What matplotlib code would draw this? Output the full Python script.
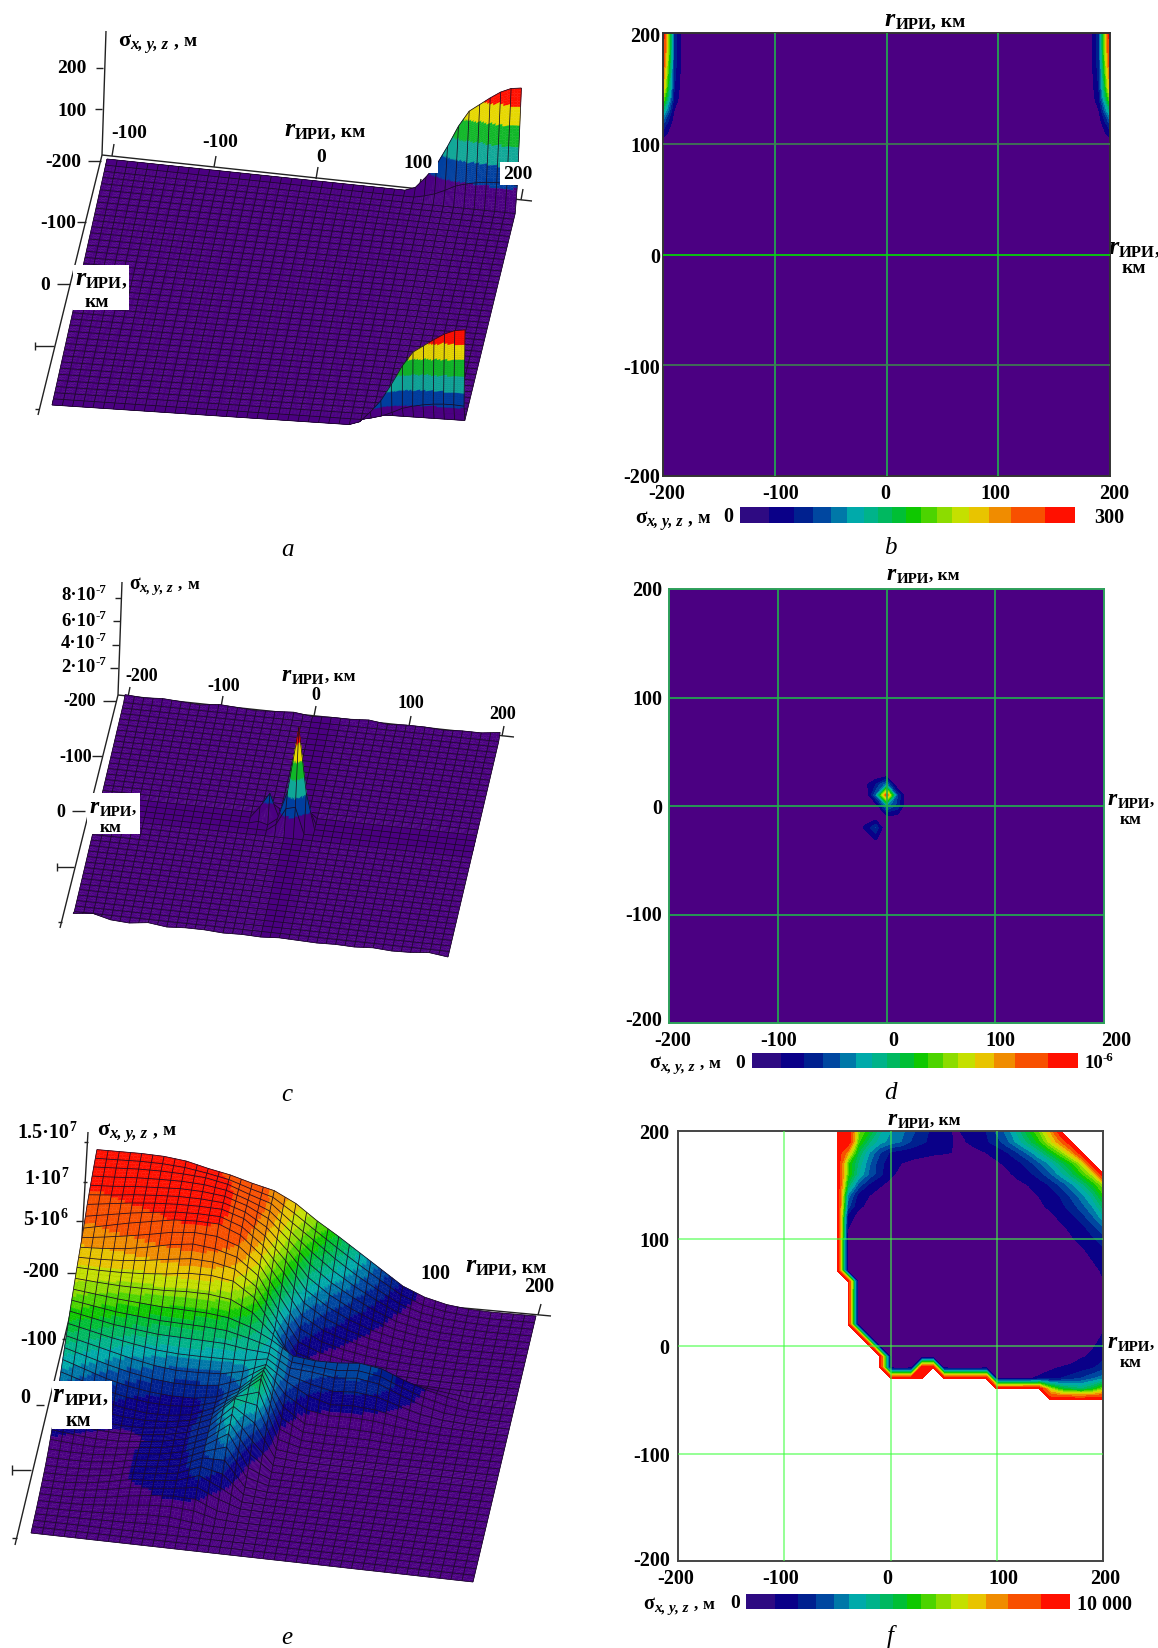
import numpy as np
import matplotlib
matplotlib.use('Agg')
import matplotlib.pyplot as plt
from matplotlib.collections import PolyCollection, LineCollection
from matplotlib.colors import ListedColormap, BoundaryNorm
from matplotlib.patches import Rectangle
from matplotlib.transforms import ScaledTranslation

plt.rcParams['font.family'] = ['Liberation Serif', 'DejaVu Serif']
plt.rcParams['axes.unicode_minus'] = False

n = np.nan

# band edges of the legend, as share of the full scale
band_edges = [0, .088, .16, .217, .271, .319, .369, .413, .455, .497, .540,
              .587, .632, .685, .742, .808, .909, 1.0]
band_colors = ['#4b0082', '#0a0088', '#00208f', '#0047a0', '#0078a8', '#00aaaa',
               '#00b38a', '#00b860', '#00bf35', '#0fc800', '#4cd400', '#8cdc00',
               '#c4e000', '#e8c400', '#f08c00', '#f85000', '#ff1000']
legend_first = '#2e0a82'
# the surfaces of a and c have six equal bands only
six_edges = [0, 1 / 6, 2 / 6, 3 / 6, 4 / 6, 5 / 6, 1.0]
six_colors = ['#4b0082', '#0040a0', '#10a898', '#10b828', '#e6d800', '#ff1000']
tick_values = [-200, -100, 0, 100, 200]

# a, b: sigma in metres near the x = +-200 edges, upper part of the area
ab_x = [-200, -190, -180, 180, 190, 200]
ab_y = [-200, 90, 100, 110, 120, 130, 140, 150, 160, 170, 180, 190, 200]
ab_edge = [0, 0, 10, 40, 75, 125, 180, 222, 242, 262, 280, 292, 296]
ab_next = [0, 0, 0, 6, 14, 26, 40, 48, 54, 58, 60, 60, 58]
ab_zero = [0] * 13
ab_sigma = np.column_stack([ab_edge, ab_next, ab_zero, ab_zero, ab_next, ab_edge])

# c, d: two narrow peaks, units of 1e-7 m
cd_x = [-200, -30, -20, -10, 0, 10, 20, 200]
cd_y = [-200, -40, -30, -20, -10, 0, 10, 20, 30, 200]
cd_sigma = np.array([
    [0, 0, 0, 0, 0, 0, 0, 0],
    [0, 0, 0, 0, 0, 0, 0, 0],
    [0, 0, 0, 1.0, .2, 0, 0, 0],
    [0, 0, 1.0, 2.2, 0, 0, 0, 0],
    [0, 0, .5, .3, .6, .6, 0, 0],
    [0, 0, 0, .2, 3.0, 2.0, 0, 0],
    [0, 0, 0, 2.6, 8.5, 2.2, 0, 0],
    [0, 0, .6, 1.6, 3.0, 0, 0, 0],
    [0, 0, 0, 0, 0, 0, 0, 0],
    [0, 0, 0, 0, 0, 0, 0, 0]])
# small waves of the back and front edges of surface c, y = -200..200 step 20
c_back = [.2, .1, .2, .1, 0, .2, .1, 0, .1, .2, 0, .1, .1, .2, 0, .1, .1, 0, .1, .1, .3]
c_front = [.3, .5, .1, 0, .2, 0, .1, .1, 0, .05, 0, .1, .05, 0, .05, 0, .1, 0, .05, .2, 0]

# e: units of 1e6 m, rows x = -200..200, columns y = -200..200, step 20 km
e_step = list(range(-200, 201, 20))
e_sigma = np.array([
    [14, 14, 14, 13.9, 13.6, 13, 12.5, 11.8, 11.2, 10, 8.3, 6.8, 5.2, 3.6, 2, 1, .4, .1, 0, 0, 0],
    [13.5, 13.6, 13.7, 13.7, 13.6, 13.4, 12.9, 12, 11.2, 9.3, 7.6, 5.8, 4.2, 2.8, 1.5, .7, .3, .1, 0, 0, 0],
    [12.9, 13, 13.2, 13.3, 13.4, 13.3, 13, 12.2, 11, 8.8, 6.4, 4.6, 3.2, 2, 1, .5, .2, .1, 0, 0, 0],
    [12.2, 12.5, 12.8, 13, 13.1, 13.1, 13, 12.2, 10.5, 8, 5, 3.4, 2.2, 1.3, .7, .3, .1, 0, 0, 0, 0],
    [11, 11.5, 12, 12.4, 12.8, 12.9, 12.8, 11.8, 9.8, 6.8, 3.6, 2.2, 1.4, .8, .4, .2, .1, 0, 0, 0, 0],
    [10.3, 10.4, 10.6, 11, 11.5, 11.8, 11.5, 10.8, 9, 5.5, 2.2, 1.2, .7, .4, .2, .1, 0, 0, 0, 0, 0],
    [9.5, 9.4, 9.4, 9.5, 9.7, 10, 10, 9.6, 8, 4.8, 1.2, .7, .4, .3, .3, .2, .1, 0, 0, 0, 0],
    [8.5, 8.2, 7.9, 7.7, 7.5, 7.4, 7.3, 7, 6.2, 5, 3.5, 3.2, 3.2, 3.4, 3, 2, 1.2, .6, .1, 0, 0],
    [7.5, 7, 6.5, 6.2, 5.9, 5.8, 5.7, 5.6, 5.2, 5, 3.6, 3.4, 3, 3.2, 2.8, 1.8, .9, .3, .1, 0, 0],
    [6.2, 5.6, 5, 4.4, 3.9, 3.6, 3.6, 3.7, 4.2, 5.2, 3.5, 2.2, 1.5, 1.6, 1.4, .9, .4, .2, .1, 0, 0],
    [5, 4.2, 3.4, 2.8, 2.4, 2.2, 2.2, 2.6, 3.8, 6, 2.2, .6, .5, .5, .4, .2, .1, 0, 0, 0, 0],
    [3.7, 3, 2.3, 1.8, 1.5, 1.5, 1.8, 2.8, 4.5, 6.5, 1.2, .2, .1, .1, .1, 0, 0, 0, 0, 0, 0],
    [2.5, 1.9, 1.5, 1.3, 1.3, 1.5, 2, 3, 5.5, 5, .4, .1, 0, 0, 0, 0, 0, 0, 0, 0, 0],
    [1.5, 1.2, 1, 1, 1.2, 1.5, 2, 3, 5.2, 2.5, .1, 0, 0, 0, 0, 0, 0, 0, 0, 0, 0],
    [.8, .7, .7, .9, 1.3, 1.5, 2, 3, 4.5, 1, 0, 0, 0, 0, 0, 0, 0, 0, 0, 0, 0],
    [.4, .4, .5, .8, 1.3, 1.5, 1.9, 3, 3, .3, 0, 0, 0, 0, 0, 0, 0, 0, 0, 0, 0],
    [.2, .2, .4, .8, 1.3, 1.4, 1.7, 2.5, 1.4, .1, 0, 0, 0, 0, 0, 0, 0, 0, 0, 0, 0],
    [.1, .1, .2, .5, .9, 1.2, 1.4, 1.3, .3, 0, 0, 0, 0, 0, 0, 0, 0, 0, 0, 0, 0],
    [0, .05, .1, .2, .3, .5, .5, .2, 0, 0, 0, 0, 0, 0, 0, 0, 0, 0, 0, 0, 0],
    [0] * 21,
    [0] * 21])

# f: units of 1000 m, rows y = 200..-50, columns x = -50..200, step 10 km
f_x = list(range(-50, 201, 10))
f_y = list(range(200, -51, -10))
f_sigma = np.array([
    [10, 10, 6, 5, 3.8, 3.2, 2.9, 2.3, 1.9, 1.4, 1.1, .8, .95, 1.25, 1.6, 2.3, 2.9, 3.9, 4.9, 5.9, 7.4, 10, n, n, n, n],
    [10, 10, 5.5, 4.2, 3.4, 3, 2.7, 2.1, 1.7, 1.4, 1.1, .85, .85, 1.1, 1.5, 1.9, 2.6, 3.4, 4.3, 5.2, 6.5, 8, 10, n, n, n],
    [10, 7.5, 4.5, 3.2, 2.2, 1.5, 1.3, 1.2, 1.1, 1, .95, .85, .6, .7, .88, 1.2, 1.6, 2.2, 2.9, 3.8, 4.8, 5.9, 7.4, 10, n, n],
    [10, 5.5, 4, 2.8, 1.8, 1.2, .88, .7, .6, .5, .4, .3, .3, .35, .5, .75, 1.05, 1.4, 1.9, 2.6, 3.3, 4.3, 5.2, 6.5, 10, n],
    [10, 5.5, 3.7, 2.6, 1.8, 1, .7, .5, .35, .3, .2, .15, .15, .2, .35, .5, .75, 1.05, 1.4, 1.9, 2.6, 3.4, 4.3, 5.3, 6.5, 10],
    [10, 4.5, 2.5, 1.5, .95, .7, .5, .4, .3, .2, .1, .1, .1, .1, .15, .25, .4, .7, .9, 1.25, 1.65, 2.3, 3, 3.9, 4.9, 6.2],
    [10, 3, 1.3, .88, .6, .5, .3, .2, .1, .1, 0, 0, 0, 0, .05, .1, .2, .4, .65, .9, 1.25, 1.65, 2.3, 3, 3.9, 5.2],
    [10, 2.4, 1, .7, .5, .3, .2, .1, 0, 0, 0, 0, 0, 0, 0, .05, .1, .3, .5, .75, 1, 1.4, 1.85, 2.5, 3.2, 4.3],
    [10, 1.2, .6, .4, .3, .2, .1, 0, 0, 0, 0, 0, 0, 0, 0, 0, .05, .1, .3, .5, .7, 1, 1.4, 1.9, 2.6, 3.5],
    [10, .9, .4, .2, .1, 0, 0, 0, 0, 0, 0, 0, 0, 0, 0, 0, 0, 0, .1, .3, .5, .75, 1, 1.4, 1.9, 2.6],
    [10, .5, 0, 0, 0, 0, 0, 0, 0, 0, 0, 0, 0, 0, 0, 0, 0, 0, 0, .1, .3, .5, .8, 1.1, 1.5, 1.9],
    [10, .5, 0, 0, 0, 0, 0, 0, 0, 0, 0, 0, 0, 0, 0, 0, 0, 0, 0, 0, .1, .3, .5, .8, 1.1, 1.5],
    [10, .5, 0, 0, 0, 0, 0, 0, 0, 0, 0, 0, 0, 0, 0, 0, 0, 0, 0, 0, 0, .1, .3, .6, .88, 1.2],
    [10, .5, 0, 0, 0, 0, 0, 0, 0, 0, 0, 0, 0, 0, 0, 0, 0, 0, 0, 0, 0, 0, .1, .3, .7, .95],
    [n, 10, .3, 0, 0, 0, 0, 0, 0, 0, 0, 0, 0, 0, 0, 0, 0, 0, 0, 0, 0, 0, 0, .1, .5, .85],
    [n, 10, .2, 0, 0, 0, 0, 0, 0, 0, 0, 0, 0, 0, 0, 0, 0, 0, 0, 0, 0, 0, 0, 0, .3, .6],
    [n, 10, .2, 0, 0, 0, 0, 0, 0, 0, 0, 0, 0, 0, 0, 0, 0, 0, 0, 0, 0, 0, 0, 0, .1, .4],
    [n, 10, .2, 0, 0, 0, 0, 0, 0, 0, 0, 0, 0, 0, 0, 0, 0, 0, 0, 0, 0, 0, 0, 0, .1, .4],
    [n, 10, .2, 0, 0, 0, 0, 0, 0, 0, 0, 0, 0, 0, 0, 0, 0, 0, 0, 0, 0, 0, 0, 0, .2, .7],
    [n, n, 10, .2, 0, 0, 0, 0, 0, 0, 0, 0, 0, 0, 0, 0, 0, 0, 0, 0, 0, 0, 0, 0, .4, .95],
    [n, n, n, 10, .2, 0, 0, 0, 0, 0, 0, 0, 0, 0, 0, 0, 0, 0, 0, 0, 0, 0, .1, .4, .8, 1.1],
    [n, n, n, n, 10, .5, .3, .2, .3, .3, .2, 0, 0, 0, 0, 0, 0, 0, 0, .1, .2, .3, .6, .8, 1, 1.4],
    [n, n, n, n, 10, .5, .3, .5, 10, 10, .5, .3, .3, .3, .5, .5, .4, .4, .4, .5, .7, .9, 1, 1.3, 1.5, 1.9],
    [n, n, n, n, n, 10, 10, 10, 10, n, 10, 10, 10, 10, 10, .7, .7, .7, .8, 1, 1.3, 1.6, 1.9, 2.2, 2.6, 3],
    [n, n, n, n, n, n, n, n, n, n, n, n, n, n, n, 10, 10, 10, 10, 10, 6.5, 5, 4.5, 4.2, 4.8, 6],
    [n, n, n, n, n, n, n, n, n, n, n, n, n, n, n, n, n, n, n, n, 10, 10, 10, 10, 10, 10]])

W, H = 1158, 1649
fig = plt.figure(figsize=(W / 100, H / 100), dpi=100)
page = fig.add_axes([0, 0, 1, 1])
page.set_xlim(0, W)
page.set_ylim(H, 0)
page.axis('off')
renderer = fig.canvas.get_renderer()


def runs(x, y, parts, align='left', z=200000):
    # parts: (string, size, italic, lowered by, gap after); x, y is the baseline
    items = []
    width = 0
    for s, size, italic, low, gap in parts:
        t = page.text(0, 0, s, fontsize=size, fontweight='bold',
                      fontstyle='italic' if italic else 'normal',
                      va='baseline', ha='left', zorder=z)
        w = t.get_window_extent(renderer).width
        items.append((t, w, low, gap))
        width += w + gap
    if align == 'center':
        x -= width / 2
    elif align == 'right':
        x -= width
    for t, w, low, gap in items:
        t.set_position((x, y + low))
        x += w + gap


def r_label(x, y, tail=False, align='left', size=1.0):
    parts = [('r', 19 * size, True, 0, 1), ('ИРИ', 12 * size, False, 3, 0)]
    parts.append(((', км' if tail else ','), 14 * size, False, 0, 0))
    runs(x, y, parts, align)


def km(x, y, size=1.0):
    runs(x, y, [('км', 14 * size, False, 0, 0)], 'center')


def sigma_label(x, y, size=1.0):
    runs(x, y, [('σ', 16 * size, False, 0, 0), ('x, y, z', 12 * size, True, 3, 5),
                (',', 14 * size, False, 0, 5), ('м', 14 * size, False, 0, 0)])


def num(x, y, s, align='right', size=14):
    runs(x, y + 5, [(s, size, False, 0, 0)], align)


def power(x, y, base, exp, align='right', size=13.5):
    runs(x, y + 5, [(base, size, False, 0, 0), (exp, size * .68, False, -7, 0)], align)


def caption(x, y, s):
    page.text(x, y, s, fontsize=18, fontstyle='italic', ha='center', va='center')


def frame_lines(segments, color='#222222', lw=1.0):
    page.add_collection(LineCollection([[(a, b), (c, d)] for a, b, c, d in segments],
                                       colors=color, linewidths=lw, zorder=0))


def white_box(x0, y0, x1, y1):
    page.add_patch(Rectangle((x0, y0), x1 - x0, y1 - y0, color='white', lw=0, zorder=150000))


def resample(xs, ys, table, xf, yf):
    rows = np.array([np.interp(xf, xs, row) for row in np.asarray(table, float)])
    return np.array([np.interp(yf, ys, rows[:, j]) for j in range(len(xf))]).T


def fine_axis(dz, px_per_z, base=3, limit=36):
    # more sampling in mesh cells where the surface is steep on screen
    out = []
    marks = []
    for i, d in enumerate(dz):
        cnt = int(np.clip(np.ceil(d * px_per_z / 2.5), base, limit))
        marks.append(len(out))
        out.extend(-200 + 10 * i + 10 * np.arange(cnt) / cnt)
    marks.append(len(out))
    out.append(200.0)
    return np.array(out), marks


def surface(xs, ys, table, vmax, corners, k_back, k_front, tilt=0.03,
            edges=band_edges, colors=band_colors):
    # y of the map runs left to right on screen, x of the map runs back to front
    bl, br, fr, fl = [np.array(c, float) for c in corners]
    mesh = np.arange(-200, 201, 10.0)
    zm = resample(xs, ys, table, mesh, mesh)
    kz = max(k_back, k_front)
    xf, xmarks = fine_axis(np.abs(np.diff(zm, axis=1)).max(axis=0), kz)
    yf, ymarks = fine_axis(np.abs(np.diff(zm, axis=0)).max(axis=1), kz)
    z = resample(xs, ys, table, xf, yf)
    t, s = np.meshgrid((yf + 200) / 400, (xf + 200) / 400, indexing='ij')
    kk = k_back + (k_front - k_back) * s
    px = (1 - s) * ((1 - t) * bl[0] + t * br[0]) + s * ((1 - t) * fl[0] + t * fr[0]) + z * kk * tilt
    py = (1 - s) * ((1 - t) * bl[1] + t * br[1]) + s * ((1 - t) * fl[1] + t * fr[1]) - z * kk
    pts = np.dstack([px, py])
    levels = np.array(edges) * vmax
    cols = np.array(colors)
    top = len(colors) - 1
    for i in range(len(xf) - 1):
        quads = np.stack([pts[:-1, i], pts[1:, i], pts[1:, i + 1], pts[:-1, i + 1]], axis=1)
        mean = (z[:-1, i] + z[1:, i] + z[:-1, i + 1] + z[1:, i + 1]) / 4
        idx = np.clip(np.searchsorted(levels, mean, side='right') - 1, 0, top)
        fc = cols[idx]
        page.add_collection(PolyCollection(quads, facecolors=fc, edgecolors=fc,
                                           linewidths=0.3, zorder=i + 1))
    # mesh lines go on after the last strip of their cell
    for a, b in zip(xmarks[:-1], xmarks[1:]):
        segs = [pts[j, a:b + 1] for j in ymarks] + [pts[:, a]]
        page.add_collection(LineCollection(segs, colors='#180a22', linewidths=0.55,
                                           zorder=b + .5))
    page.add_collection(LineCollection([pts[:, -1]], colors='#180a22', linewidths=0.55,
                                       zorder=len(xf) + 1))


def contour_map(rect, xs, ys, table, vmax, grid, spine='#333333', alpha=1.0,
                pad=4, xshift=(0, 0, 0, 0, 0), yshift=(0, 0, 0, 0, 0)):
    x0, y0, x1, y1 = rect
    ax = fig.add_axes([x0 / W, 1 - y1 / H, (x1 - x0) / W, (y1 - y0) / H])
    levels = np.array(band_edges) * vmax
    levels[-1] *= 1.0001
    ax.contourf(xs, ys, np.ma.masked_invalid(table), levels=levels, colors=band_colors)
    ax.set_xlim(-200, 200)
    ax.set_ylim(-200, 200)
    ax.set_xticks(tick_values)
    ax.set_yticks(tick_values)
    ax.tick_params(axis='x', length=0, labelsize=14.5, pad=5)
    ax.tick_params(axis='y', length=0, labelsize=14.5, pad=pad)
    ax.grid(True, color=grid, lw=1.2, alpha=alpha)
    ax.set_axisbelow(False)
    for lines in (ax.get_xgridlines(), ax.get_ygridlines()):
        lines[0].set_visible(False)
        lines[-1].set_visible(False)
    for lab, dx in zip(ax.get_xticklabels(), xshift):
        lab.set_fontweight('bold')
        lab.set_transform(lab.get_transform() + ScaledTranslation(dx / 100, 0, fig.dpi_scale_trans))
    for lab, dy in zip(ax.get_yticklabels(), yshift):
        lab.set_fontweight('bold')
        lab.set_transform(lab.get_transform() + ScaledTranslation(0, dy / 100, fig.dpi_scale_trans))
    for sp in ax.spines.values():
        sp.set_color(spine)
        sp.set_linewidth(1.4)
    return ax


def legend_bar(rect):
    x0, y0, x1, y1 = rect
    ax = fig.add_axes([x0 / W, 1 - y1 / H, (x1 - x0) / W, (y1 - y0) / H])
    cmap = ListedColormap([legend_first] + band_colors[1:])
    ax.pcolormesh(band_edges, [0, 1], [np.arange(17)], cmap=cmap,
                  norm=BoundaryNorm(np.arange(18) - .5, 17))
    ax.axis('off')


# --- a ---
surface(ab_x, ab_y, ab_sigma, 300, [(107, 160), (518, 203), (462, 433), (52, 406)], .385, .345,
        edges=six_edges, colors=six_colors)
frame_lines([(106, 32, 102, 156), (102, 156, 38, 416), (102, 156, 532, 202),
             (96, 69, 103, 69), (95, 110, 102, 110), (88, 162, 101, 162), (77, 223, 86, 223),
             (57, 285, 70, 285), (35, 347, 54, 347), (35, 343, 35, 351), (35, 410, 39, 410),
             (114, 145, 112, 157), (216, 157, 214, 168), (318, 168, 316, 180),
             (421, 180, 419, 191), (523, 190, 521, 201)])
sigma_label(118, 46)
num(87, 68, '200')
num(87, 111, '100')
num(81, 162, '-200')
num(76, 223, '-100')
num(50, 285, '0')
num(129, 133, '-100', 'center')
num(220, 142, '-100', 'center')
num(321, 157, '0', 'center')
white_box(398, 152, 438, 174)
num(418, 163, '100', 'center')
white_box(500, 163, 536, 186)
num(518, 174, '200', 'center')
r_label(284, 136, tail=True)
white_box(73, 266, 129, 311)
r_label(101, 285, align='center')
km(97, 307)
caption(287, 550, 'a')

# --- b ---
ax_b = contour_map((663, 34, 1110, 477), ab_x, ab_y, ab_sigma, 300, '#22b14c', pad=2,
                   xshift=(4, 6, -1, -3, 4), yshift=(2, 0, 0, 0, 0))
ax_b.get_ygridlines()[1].set_color('#3d8050')
ax_b.get_ygridlines()[3].set_color('#3d8050')
ax_b.get_ygridlines()[2].set_color('#00e000')
legend_bar((740, 508, 1075, 524))
r_label(925, 26, tail=True, align='center')
r_label(1134, 254, align='center')
km(1134, 273)
sigma_label(635, 523, .95)
num(728, 517, '0', 'center', 14.5)
num(1109, 518, '300', 'center', 14.5)
caption(890, 548, 'b')

# --- c ---
mesh_km = np.arange(-200, 201, 10.0)
c_surface = resample(cd_x, cd_y, cd_sigma, mesh_km, mesh_km)
c_surface[:, 0] += np.interp(mesh_km, e_step, c_back)
c_surface[:, -1] += np.interp(mesh_km, e_step, c_front)
surface(mesh_km, mesh_km, c_surface, 8.5, [(125, 698), (500, 737), (448, 958), (73, 918)], 11.8, 11.8,
        edges=six_edges, colors=six_colors)
frame_lines([(122, 583, 118, 696), (118, 696, 60, 929), (118, 696, 514, 738),
             (115, 599, 121, 599), (113, 622, 120, 622), (112, 646, 119, 646), (110, 669, 118, 669),
             (103, 702, 116, 702), (92, 757, 102, 757), (72, 812, 85, 812), (57, 868, 74, 868),
             (57, 864, 57, 872), (58, 923, 62, 923),
             (130, 688, 128, 698), (223, 697, 221, 708), (316, 707, 314, 717),
             (411, 717, 409, 727), (504, 727, 502, 737)])
sigma_label(129, 589, .88)
power(106, 595, '8·10', '-7')
power(106, 621, '6·10', '-7')
power(106, 643, '4·10', '-7')
power(106, 667, '2·10', '-7')
num(142, 676, '-200', 'center', 13)
num(224, 686, '-100', 'center', 13)
num(316, 695, '0', 'center', 13)
num(411, 703, '100', 'center', 13)
num(503, 714, '200', 'center', 13)
r_label(282, 681, tail=True, size=.9)
num(96, 701, '-200', size=13)
num(92, 757, '-100', size=13)
num(65, 812, '0', size=13)
white_box(87, 794, 140, 835)
r_label(113, 813, align='center', size=.9)
km(111, 832, .9)
caption(287, 1095, 'c')

# --- d ---
contour_map((669, 590, 1104, 1024), cd_x, cd_y, cd_sigma, 10, '#22b14c', spine='#2ea05a', pad=5,
            xshift=(4, 1, 7, 5, 12), yshift=(5, 2, 1, 1, 2))
legend_bar((752, 1054, 1078, 1069))
r_label(923, 580, tail=True, align='center', size=.9)
r_label(1131, 805, align='center', size=.9)
km(1131, 824, .9)
sigma_label(649, 1068, .9)
num(740, 1063, '0', 'center')
power(1084, 1063, '10', '-6', 'left')
caption(890, 1093, 'd')

# --- e ---
surface(e_step, e_step, e_sigma.T, 14, [(88, 1278), (536, 1317), (473, 1583), (31, 1534)], 9.1, 9.1, tilt=.07)
frame_lines([(88, 1133, 80, 1274), (80, 1274, 15, 1546), (80, 1274, 551, 1317),
             (84, 1143, 88, 1143), (83, 1183, 87, 1183), (76, 1222, 83, 1222), (67, 1274, 79, 1274),
             (62, 1340, 66, 1340), (36, 1406, 44, 1406), (12, 1471, 31, 1471), (12, 1466, 12, 1476),
             (12, 1539, 17, 1539),
             (431, 1300, 428, 1311), (541, 1305, 538, 1316)])
sigma_label(97, 1135)
power(76, 1133, '1.5·10', '7', size=14.5)
power(68, 1179, '1·10', '7', size=14.5)
power(67, 1220, '5·10', '6', size=14.5)
num(59, 1272, '-200', size=14.5)
num(57, 1340, '-100', size=14.5)
num(25, 1398, '0', 'center', 14.5)
num(435, 1274, '100', 'center', 14.5)
num(539, 1287, '200', 'center', 14.5)
r_label(465, 1272, tail=True)
white_box(52, 1382, 112, 1430)
r_label(80, 1402, align='center', size=1.05)
km(78, 1426, 1.05)
caption(287, 1638, 'e')

# --- f ---
contour_map((678, 1132, 1103, 1562), f_x, f_y, f_sigma, 10, '#40ff40', spine='#444444', alpha=.65, pad=6,
            xshift=(-2, -4, -3, 7, 2), yshift=(3, 0, 0, 0, 0))
legend_bar((746, 1595, 1070, 1610))
r_label(924, 1125, tail=True, align='center', size=.9)
r_label(1131, 1348, align='center', size=.9)
km(1131, 1367, .9)
sigma_label(643, 1609, .9)
num(735, 1603, '0', 'center')
num(1077, 1605, '10 000', 'left', 14.5)
caption(890, 1637, 'f')

fig.savefig('out.png', dpi=100)
